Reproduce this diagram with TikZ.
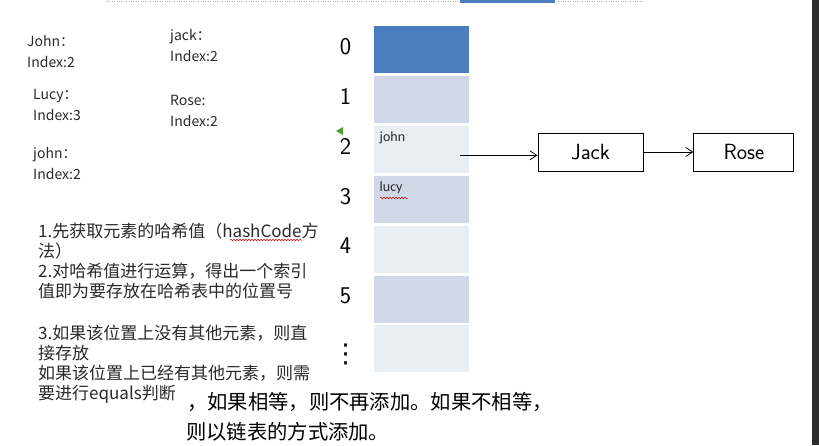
\documentclass[tikz,border=0pt]{standalone}
\usepackage{fontspec}
\setmainfont{Noto Sans CJK SC}
\newfontfamily\latinfont{Carlito}
\newfontfamily\symfont{DejaVu Sans}
\usepackage{tikz}
\usetikzlibrary{arrows.meta,positioning,calc,decorations.pathmorphing}
\definecolor{slotdark}{HTML}{4A7EBF}
\definecolor{slotmid}{HTML}{D0D8E8}
\definecolor{slotlight}{HTML}{E9EDF4}
\definecolor{stripgray}{HTML}{2E2E2E}
\definecolor{textgray}{HTML}{2A2A2A}
\definecolor{markgreen}{HTML}{4E9A2E}

\begin{document}
\begin{tikzpicture}[
    x=1pt, y=-1pt,
    slot/.style={rectangle, minimum width=95pt, minimum height=47pt, inner sep=0pt, outer sep=0pt},
    idxlbl/.style={inner sep=0pt, font=\sffamily\fontsize{24}{24}\selectfont},
    keylbl/.style={anchor=west, align=left, inner sep=0pt, text=textgray, font=\fontsize{14}{21}\selectfont},
    entry/.style={anchor=north west, inner sep=0pt, text=textgray, font=\latinfont\fontsize{14}{15}\selectfont},
    chainbox/.style={rectangle, draw, line width=0.9pt, minimum height=38pt, font=\sffamily\fontsize{22}{22}\selectfont},
    arrow/.style={-{Straight Barb[length=7pt,width=9pt]}, line width=0.8pt},
    note/.style={anchor=north west, align=left, inner sep=0pt, text=textgray, font=\fontsize{17}{20}\selectfont},
    bignote/.style={anchor=west, inner sep=0pt, font=\fontsize{20.3}{21}\selectfont},
    spell/.style={red!80!black, line width=0.5pt, decorate, decoration={snake, amplitude=0.8pt, segment length=3pt}},
]
\fill[white] (0,0) rectangle (819,445);
\useasboundingbox (0,0) rectangle (819,445);

% ── Window edges ────────────────────────────────────────────────────────────
\draw[gray!60, dotted] (107,1) -- (643,1);
\fill[slotdark] (460,0) rectangle (555,3);
\fill[stripgray] (812,0) rectangle (819,445);

% ── Keys and their index ────────────────────────────────────────────────────
\node[keylbl] (johnkey)  at (27,51.5)  {John：\\Index:2};
\node[keylbl] (jackkey)  at (170,45.5) {jack：\\Index:2};
\node[keylbl] (lucykey)  at (33,105)   {Lucy：\\Index:3};
\node[keylbl] (rosekey)  at (170,110.5){Rose:\\Index:2};
\node[keylbl] (john2key) at (33,164)   {john：\\Index:2};

% ── Hash table slots ────────────────────────────────────────────────────────
\foreach \i/\col in {0/slotdark,1/slotmid,2/slotlight,3/slotmid,4/slotlight,5/slotmid,6/slotlight}
    \node[slot, fill=\col] (cell\i) at (421,{49.5+49.9*\i}) {};

% hand-written slot numbers
\foreach \i in {0,...,5}
    \node[idxlbl] (idx\i) at ([xshift=-28pt,yshift=3pt]cell\i.west) {\i};
\node[idxlbl, font=\symfont\fontsize{26}{26}\selectfont] (idx6) at ([xshift=-28pt,yshift=-6pt]cell6.west) {⋮};
\fill[markgreen] (336,131) -- (343,127) -- (343,135) -- cycle;

\node[entry] (john) at ([xshift=6pt,yshift=-6pt]cell2.north west) {john};
\node[entry] (lucy) at ([xshift=6pt,yshift=-6pt]cell3.north west) {lucy};
\draw[spell] (380,198) -- (408,198);

% ── Chain at slot 2 ─────────────────────────────────────────────────────────
\node[chainbox, minimum width=105pt] (jack) at (590.5,152) {Jack};
\node[chainbox, minimum width=100pt, right=50pt of jack] (rose) {Rose};

\coordinate (tail) at ([xshift=-9pt,yshift=-6pt]cell2.east);
\draw[arrow] (tail) -- (tail -| jack.west);
\draw[arrow] (jack) -- (rose);

% ── Steps ───────────────────────────────────────────────────────────────────
\node[note] (steps) at (38,223) {1.先获取元素的哈希值（hashCode方\\
法）\\
2.对哈希值进行运算，得出一个索引\\
值即为要存放在哈希表中的位置号\\[22pt]
3.如果该位置上没有其他元素，则直\\
接存放\\
如果该位置上已经有其他元素，则需\\
要进行equals判断};
\draw[spell] (230,240) -- (302,240);

\node[bignote] (equalA) at (187,402) {，如果相等，则不再添加。如果不相等，};
\node[bignote] (equalB) at (186,432) {则以链表的方式添加。};

\end{tikzpicture}
\end{document}
